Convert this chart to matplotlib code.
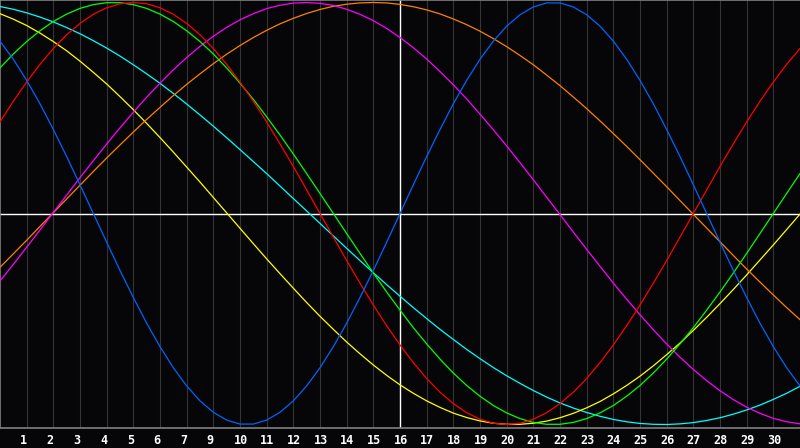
import numpy as np
import matplotlib
matplotlib.use("Agg")
import matplotlib.pyplot as plt
import matplotlib.transforms as mtransforms

#---------------------------------------------------------------------------
# 30 day-slots across the chart, values read every half slot
slots = [i / 2 for i in range(61)]
day_slots = list(range(1, 30))
day_labels = ["1", "2", "3", "4", "5", "6", "7", "9", "10", "11", "12", "13",
              "14", "15", "16", "17", "18", "19", "20", "21", "22", "23",
              "24", "25", "26", "27", "28", "29", "30"]
today_slot = 15

# cycle values (-1 .. 1), slot 0, 0.5, 1, ... 30
physical = [0.817, 0.731, 0.631, 0.520, 0.398, 0.270, 0.136, 0.0, -0.136,
            -0.270, -0.398, -0.520, -0.631, -0.731, -0.817, -0.888, -0.942,
            -0.979, -0.998, -0.998, -0.979, -0.942, -0.888, -0.817, -0.731,
            -0.631, -0.520, -0.398, -0.270, -0.136, 0.0, 0.136, 0.270, 0.398,
            0.520, 0.631, 0.731, 0.817, 0.888, 0.942, 0.979, 0.998, 0.998,
            0.979, 0.942, 0.888, 0.817, 0.731, 0.631, 0.520, 0.398, 0.270,
            0.136, 0.0, -0.136, -0.270, -0.398, -0.520, -0.631, -0.731, -0.817]
emotional = [0.434, 0.532, 0.623, 0.707, 0.782, 0.847, 0.901, 0.944, 0.975,
             0.994, 1.000, 0.994, 0.975, 0.944, 0.901, 0.847, 0.782, 0.707,
             0.623, 0.532, 0.434, 0.330, 0.223, 0.112, 0.0, -0.112, -0.223,
             -0.330, -0.434, -0.532, -0.623, -0.707, -0.782, -0.847, -0.901,
             -0.944, -0.975, -0.994, -1.000, -0.994, -0.975, -0.944, -0.901,
             -0.847, -0.782, -0.707, -0.623, -0.532, -0.434, -0.330, -0.223,
             -0.112, 0.0, 0.112, 0.223, 0.330, 0.434, 0.532, 0.623, 0.707, 0.782]
intellectual = [0.690, 0.756, 0.815, 0.866, 0.910, 0.945, 0.972, 0.990, 0.999,
                0.999, 0.990, 0.972, 0.945, 0.910, 0.866, 0.815, 0.756, 0.690,
                0.618, 0.541, 0.458, 0.372, 0.282, 0.189, 0.095, 0.0, -0.095,
                -0.189, -0.282, -0.372, -0.458, -0.541, -0.618, -0.690, -0.756,
                -0.815, -0.866, -0.910, -0.945, -0.972, -0.990, -0.999, -0.999,
                -0.990, -0.972, -0.945, -0.910, -0.866, -0.815, -0.756, -0.690,
                -0.618, -0.541, -0.458, -0.372, -0.282, -0.189, -0.095, 0.0,
                0.095, 0.189]
intuitive = [-0.320, -0.241, -0.160, -0.078, 0.005, 0.087, 0.170, 0.250, 0.329,
             0.406, 0.480, 0.551, 0.618, 0.681, 0.739, 0.792, 0.840, 0.882,
             0.918, 0.947, 0.971, 0.987, 0.997, 1.000, 0.996, 0.986, 0.968,
             0.944, 0.914, 0.877, 0.834, 0.786, 0.732, 0.673, 0.610, 0.543,
             0.471, 0.397, 0.320, 0.241, 0.160, 0.077, -0.005, -0.088, -0.170,
             -0.250, -0.330, -0.406, -0.480, -0.551, -0.618, -0.681, -0.739,
             -0.792, -0.840, -0.882, -0.918, -0.947, -0.971, -0.987, -0.997]
aesthetic = [0.947, 0.921, 0.891, 0.855, 0.815, 0.771, 0.722, 0.669, 0.614,
             0.554, 0.492, 0.427, 0.360, 0.291, 0.220, 0.149, 0.076, 0.003,
             -0.070, -0.143, -0.215, -0.285, -0.354, -0.422, -0.487, -0.549,
             -0.609, -0.665, -0.718, -0.767, -0.812, -0.852, -0.888, -0.919,
             -0.946, -0.967, -0.983, -0.994, -0.999, -0.999, -0.994, -0.984,
             -0.968, -0.947, -0.921, -0.891, -0.855, -0.815, -0.771, -0.722,
             -0.669, -0.614, -0.554, -0.492, -0.427, -0.360, -0.291, -0.220,
             -0.149, -0.076, -0.003]
awareness = [-0.255, -0.191, -0.127, -0.061, 0.004, 0.069, 0.134, 0.199, 0.263,
             0.325, 0.386, 0.446, 0.503, 0.559, 0.612, 0.662, 0.710, 0.755,
             0.796, 0.834, 0.868, 0.899, 0.925, 0.948, 0.967, 0.982, 0.992,
             0.998, 1.000, 0.998, 0.991, 0.980, 0.965, 0.946, 0.922, 0.895,
             0.864, 0.829, 0.791, 0.749, 0.705, 0.656, 0.606, 0.552, 0.497,
             0.439, 0.379, 0.318, 0.255, 0.191, 0.127, 0.061, -0.004, -0.069,
             -0.134, -0.199, -0.263, -0.325, -0.386, -0.446, -0.503]
spiritual = [0.981, 0.968, 0.951, 0.931, 0.908, 0.881, 0.852, 0.819, 0.784,
             0.746, 0.705, 0.662, 0.617, 0.569, 0.519, 0.467, 0.414, 0.359,
             0.303, 0.246, 0.189, 0.130, 0.071, 0.012, -0.047, -0.106, -0.165,
             -0.223, -0.281, -0.337, -0.392, -0.446, -0.498, -0.549, -0.597,
             -0.644, -0.688, -0.730, -0.769, -0.805, -0.839, -0.870, -0.898,
             -0.922, -0.943, -0.961, -0.976, -0.987, -0.995, -0.999, -1.000,
             -0.997, -0.991, -0.981, -0.968, -0.951, -0.931, -0.908, -0.881,
             -0.852, -0.819]

series = [
    (spiritual, "#00ffff"),
    (aesthetic, "#ffff00"),
    (awareness, "#ff8000"),
    (intuitive, "#ff00ff"),
    (intellectual, "#00ff00"),
    (emotional, "#ff0000"),
    (physical, "#0064ff"),
]
#---------------------------------------------------------------------------

bg = "#060608"
fig = plt.figure(figsize=(8, 4.48), dpi=100, facecolor=bg)
# plot area 800 x 428 px, day labels underneath
ax = fig.add_axes((0, 20 / 448, 1, 428 / 448), facecolor=bg)

ax.set_xlim(0, 30)
ax.set_ylim(-214.5 / 211, 213.5 / 211)

ax.set_xticks(day_slots)
ax.set_xticklabels(day_labels)
ax.set_yticks([])
ax.grid(True, axis="x", color="#343434", linewidth=0.8)
ax.set_axisbelow(True)

ax.axhline(0, color="white", linewidth=1.0, zorder=2)
ax.axvline(today_slot, color="white", linewidth=1.0, zorder=2)

for vals, col in series:
    ax.plot(slots[:len(vals)], vals, color=col, linewidth=0.9, zorder=3)

for side in ["left", "top", "bottom"]:
    ax.spines[side].set_color("#808080")
    ax.spines[side].set_linewidth(1.2)
ax.spines["right"].set_visible(False)

ax.tick_params(axis="x", length=0, pad=4.5, colors="white")
offset = mtransforms.ScaledTranslation(-6.5 / 100, 0, fig.dpi_scale_trans)
for lbl in ax.get_xticklabels():
    lbl.set_fontfamily("DejaVu Sans Mono")
    lbl.set_fontweight("bold")
    lbl.set_fontsize(8.5)
    lbl.set_horizontalalignment("left")
    lbl.set_transform(lbl.get_transform() + offset)

fig.savefig("out.png", dpi=100, facecolor=bg)
